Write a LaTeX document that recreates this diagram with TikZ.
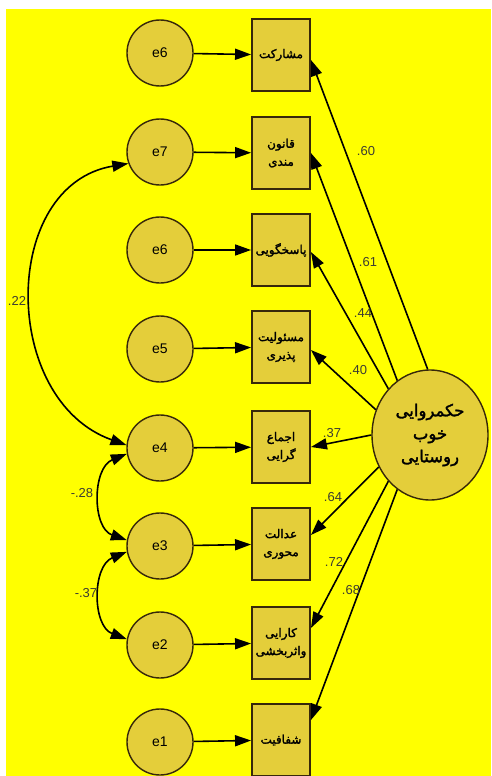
\documentclass[tikz,border=0pt]{standalone}
\usepackage{fontspec}
\setmainfont{Liberation Sans}
\newfontfamily\arabicfont[Script=Arabic,AutoFakeBold=1.8]{DejaVu Sans}
\TeXXeTstate=1
\usetikzlibrary{arrows.meta,shapes.geometric}
\definecolor{bg}{RGB}{255,255,0}
\definecolor{nodefill}{RGB}{228,206,58}
\definecolor{rim}{RGB}{55,40,10}
\definecolor{numgray}{RGB}{60,60,50}
\newcommand{\fa}[1]{\beginR #1\endR}

\begin{document}
\begin{tikzpicture}[x=1pt,y=-1pt]
			\tikzstyle{error}=[circle,draw=rim,fill=nodefill,line width=1.4pt,minimum size=66pt,inner sep=0pt,font=\fontsize{14}{16}\selectfont]
			\tikzstyle{measure}=[rectangle,draw=rim,fill=nodefill,line width=1.9pt,minimum width=58pt,minimum height=72pt,inner sep=0pt,align=center,font=\arabicfont\bfseries\fontsize{12}{18}\selectfont]
			\tikzstyle{latent}=[ellipse,draw=rim,fill=nodefill,line width=1.4pt,minimum width=116pt,minimum height=130pt,inner sep=0pt,align=center,font=\arabicfont\bfseries\fontsize{16.5}{23}\selectfont]
			\tikzstyle{load}=[draw,line width=1.6pt,black,-{Triangle[length=16pt,width=11pt]}]
			\tikzstyle{cov}=[draw,line width=1.6pt,black,{Triangle[length=16pt,width=11pt]}-{Triangle[length=16pt,width=11pt]}]
			\tikzstyle{coef}=[text=numgray,font=\fontsize{13}{15}\selectfont,inner sep=0pt]
			
			\useasboundingbox (0,0) rectangle (491,776);
			\fill[white] (0,0) rectangle (491,776);
			\fill[bg] (6,9) rectangle (491,776);
			
			\node[error] (r1) at (160,53) {e6};
			\node[error] (r2) at (160,152) {e7};
			\node[error] (r3) at (160,250) {e6};
			\node[error] (r4) at (160,349) {e5};
			\node[error] (r5) at (160,448) {e4};
			\node[error] (r6) at (160,546) {e3};
			\node[error] (r7) at (160,645) {e2};
			\node[error] (r8) at (160,742) {e1};
			
			\node[measure] (m1) at (281,55) {\fa{مشارکت}};
			\node[measure] (m2) at (281,153) {\fa{قانون}\\\fa{مندی}};
			\node[measure] (m3) at (281,250) {\fa{پاسخگویی}};
			\node[measure] (m4) at (281,347) {\fa{مسئولیت}\\\fa{پذیری}};
			\node[measure] (m5) at (281,447) {\fa{اجماع}\\\fa{گرایی}};
			\node[measure] (m6) at (281,544) {\fa{عدالت}\\\fa{محوری}};
			\node[measure] (m7) at (281,643) {\fa{کارایی}\\\fa{واثربخشی}};
			\node[measure] (m8) at (281,740) {\fa{شفافیت}};
			
			\node[latent] (G) at (430,435) {\fa{حکمروایی}\\\fa{خوب}\\\fa{روستایی}};
			
			\draw[load] (r1) -- (m1);
			\draw[load] (r2) -- (m2);
			\draw[load] (r3) -- (m3);
			\draw[load] (r4) -- (m4);
			\draw[load] (r5) -- (m5);
			\draw[load] (r6) -- (m6);
			\draw[load] (r7) -- (m7);
			\draw[load] (r8) -- (m8);
			
			\draw[load] (G.92) -- ([yshift=-5pt]m1.east);
			\draw[load] (G.121) -- (m2.east);
			\draw[load] (G.132) -- ([yshift=-2pt]m3.east);
			\draw[load] (G.155) -- ([yshift=-3pt]m4.east);
			\draw[load] (G.180) -- (m5.east);
			\draw[load] (G.212) -- ([yshift=9pt]m6.east);
			\draw[load] (G.228) -- ([yshift=15pt]m7.east);
			\draw[load] (G.239) -- ([yshift=20pt]m8.east);
			
			\node[coef] (c1) at (366,151) {.60};
			\node[coef] (c2) at (368,262) {.61};
			\node[coef] (c3) at (363,313) {.44};
			\node[coef] (c4) at (358,370) {.40};
			\node[coef] (c5) at (332,433) {.37};
			\node[coef] (c6) at (333,497) {.64};
			\node[coef] (c7) at (334,562) {.72};
			\node[coef] (c8) at (351,590) {.68};
			
			\draw[cov] (r2.200) .. controls (0,185) and (0,400) .. (r5.175);
			\draw[cov] (r5.190) .. controls (92,468) and (92,528) .. (r6.170);
			\draw[cov] (r6.190) .. controls (92,566) and (92,626) .. (r7.170);
			
			\node[coef] (k1) at (17,301) {.22};
			\node[coef] (k2) at (82,493) {-.28};
			\node[coef] (k3) at (86,593) {-.37};
		\end{tikzpicture}
\end{document}
